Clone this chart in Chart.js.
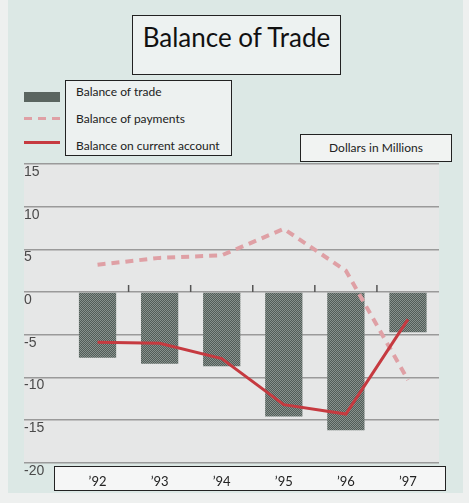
<!DOCTYPE html>
<html>
<head>
<meta charset="utf-8">
<script src="https://cdn.jsdelivr.net/npm/chart.js@4"></script>
<style>
  html, body { margin: 0; padding: 0; background: #eef0ef; }
  #wrap { position: relative; width: 469px; height: 503px; overflow: hidden; font-family: Lato, "Open Sans", sans-serif; }
  #panel { position: absolute; left: 8px; top: 0; width: 455px; height: 493px; background: #dce8e5; }
  .box { position: absolute; border: 1.5px solid #222; box-sizing: border-box; }
  #titleBox { left: 132px; top: 15px; width: 209px; height: 60px; background: #edf2f1; text-align: center; font-size: 26px; line-height: 32px; padding-top: 5px; color: #111; }
  #legendBox { left: 65px; top: 80px; width: 167px; height: 76px; background: #edf1f0; }
  .lg { position: absolute; left: 10px; font-size: 12px; color: #222; white-space: nowrap; }
  #unitBox { left: 300px; top: 134px; width: 152px; height: 28px; background: #f1f3f2; text-align: center; font-size: 12px; line-height: 26px; color: #222; }
  #xBox { left: 54px; top: 466px; width: 392px; height: 25px; background: #f5f6f6; }
  .sw { position: absolute; left: 24px; width: 36px; }
  #swBar { top: 92px; height: 10px; background: radial-gradient(#8c9692 35%, transparent 36%) 0 0 / 2px 2px, #5a6560; }
  #swDash { top: 117px; height: 3px; background: repeating-linear-gradient(90deg, #dfa0a5 0 8px, transparent 8px 14px); }
  #swLine { top: 141px; height: 3px; background: #c63a40; }
  #chartBox { position: absolute; left: 0; top: 0; width: 469px; height: 503px; }
</style>
</head>
<body>
<div id="wrap">
  <div id="panel"></div>
  <div class="box" id="titleBox">Balance of Trade</div>
  <div class="box" id="legendBox">
    <div class="lg" style="top:3px">Balance of trade</div>
    <div class="lg" style="top:30px">Balance of payments</div>
    <div class="lg" style="top:57px">Balance on current account</div>
  </div>
  <div class="sw" id="swBar"></div>
  <div class="sw" id="swDash"></div>
  <div class="sw" id="swLine"></div>
  <div class="box" id="unitBox">Dollars in Millions</div>
  <div class="box" id="xBox"></div>
  <div id="chartBox"><canvas id="grafico"></canvas></div>
</div>
<script>
// datos (millones de dólares)
const years = ['’92', '’93', '’94', '’95', '’96', '’97'];
const tradeBalance = [-7.7, -8.4, -8.7, -14.6, -16.2, -4.7];
const paymentsBalance = [3.2, 4.0, 4.3, 7.4, 2.5, -10.3];
const currentAccount = [-5.9, -6.0, -7.8, -13.2, -14.3, -3.2];
const yMin = -20;
const yMax = 15;
const yStep = 5;

// trama punteada de las barras
function makePattern() {
    const c = document.createElement('canvas');
    c.width = 2; c.height = 2;
    const p = c.getContext('2d');
    p.fillStyle = '#525d58';
    p.fillRect(0, 0, 2, 2);
    p.fillStyle = '#87918d';
    p.fillRect(0, 0, 1, 1);
    p.fillRect(1, 1, 1, 1);
    return p.createPattern(c, 'repeat');
}

const plotBackground = {
    id: 'plotBackground',
    beforeDraw(chart) {
        const { ctx, chartArea, scales } = chart;
        ctx.save();
        ctx.fillStyle = '#e6e7e7';
        ctx.fillRect(scales.y.left, chartArea.top, chartArea.right - scales.y.left, chartArea.bottom - chartArea.top);
        ctx.restore();
    }
};

// pequeñas marcas entre categorías sobre la línea del cero
const zeroTicks = {
    id: 'zeroTicks',
    beforeDatasetsDraw(chart) {
        const { ctx, scales } = chart;
        const y0 = scales.y.getPixelForValue(0);
        ctx.save();
        ctx.strokeStyle = '#555';
        ctx.lineWidth = 1.5;
        for (let i = 0; i < years.length - 1; i++) {
            const x = (scales.x.getPixelForValue(i) + scales.x.getPixelForValue(i + 1)) / 2;
            ctx.beginPath();
            ctx.moveTo(x, y0);
            ctx.lineTo(x, y0 - 7);
            ctx.stroke();
        }
        ctx.restore();
    }
};

const ctx = document.getElementById('grafico').getContext('2d');
new Chart(ctx, {
    type: 'bar',
    data: {
        labels: years,
        datasets: [
            {
                type: 'line',
                label: 'Balance on current account',
                data: currentAccount,
                borderColor: '#c63a40',
                borderWidth: 3,
                pointRadius: 0,
                tension: 0,
                order: 1
            },
            {
                type: 'line',
                label: 'Balance of payments',
                data: paymentsBalance,
                borderColor: '#dfa0a5',
                borderWidth: 4,
                borderDash: [8, 6],
                pointRadius: 0,
                tension: 0,
                order: 2
            },
            {
                label: 'Balance of trade',
                data: tradeBalance,
                backgroundColor: makePattern(),
                borderWidth: 0,
                barPercentage: 0.6,
                categoryPercentage: 1.0,
                order: 3
            }
        ]
    },
    options: {
        responsive: true,
        maintainAspectRatio: false,
        animation: false,
        layout: { padding: { left: 24, right: 30, top: 164, bottom: 0 } },
        plugins: {
            legend: { display: false },
            tooltip: { enabled: false }
        },
        scales: {
            x: {
                grid: { display: false, drawTicks: false },
                border: { display: false },
                ticks: {
                    padding: 11,
                    color: '#222',
                    font: { family: 'Lato', size: 13 }
                },
                afterFit(scale) { scale.height = 40.3; }
            },
            y: {
                min: yMin,
                max: yMax,
                grid: { color: '#9a9a9a', lineWidth: 1.5, tickLength: 42.5 },
                border: { display: false },
                ticks: {
                    stepSize: yStep,
                    crossAlign: 'far',
                    labelOffset: 8,
                    color: '#4a4a4a',
                    font: { family: 'Liberation Sans', size: 14 }
                },
                afterFit(scale) { scale.width = 42.5; }
            }
        }
    },
    plugins: [plotBackground, zeroTicks]
});
</script>
</body>
</html>
